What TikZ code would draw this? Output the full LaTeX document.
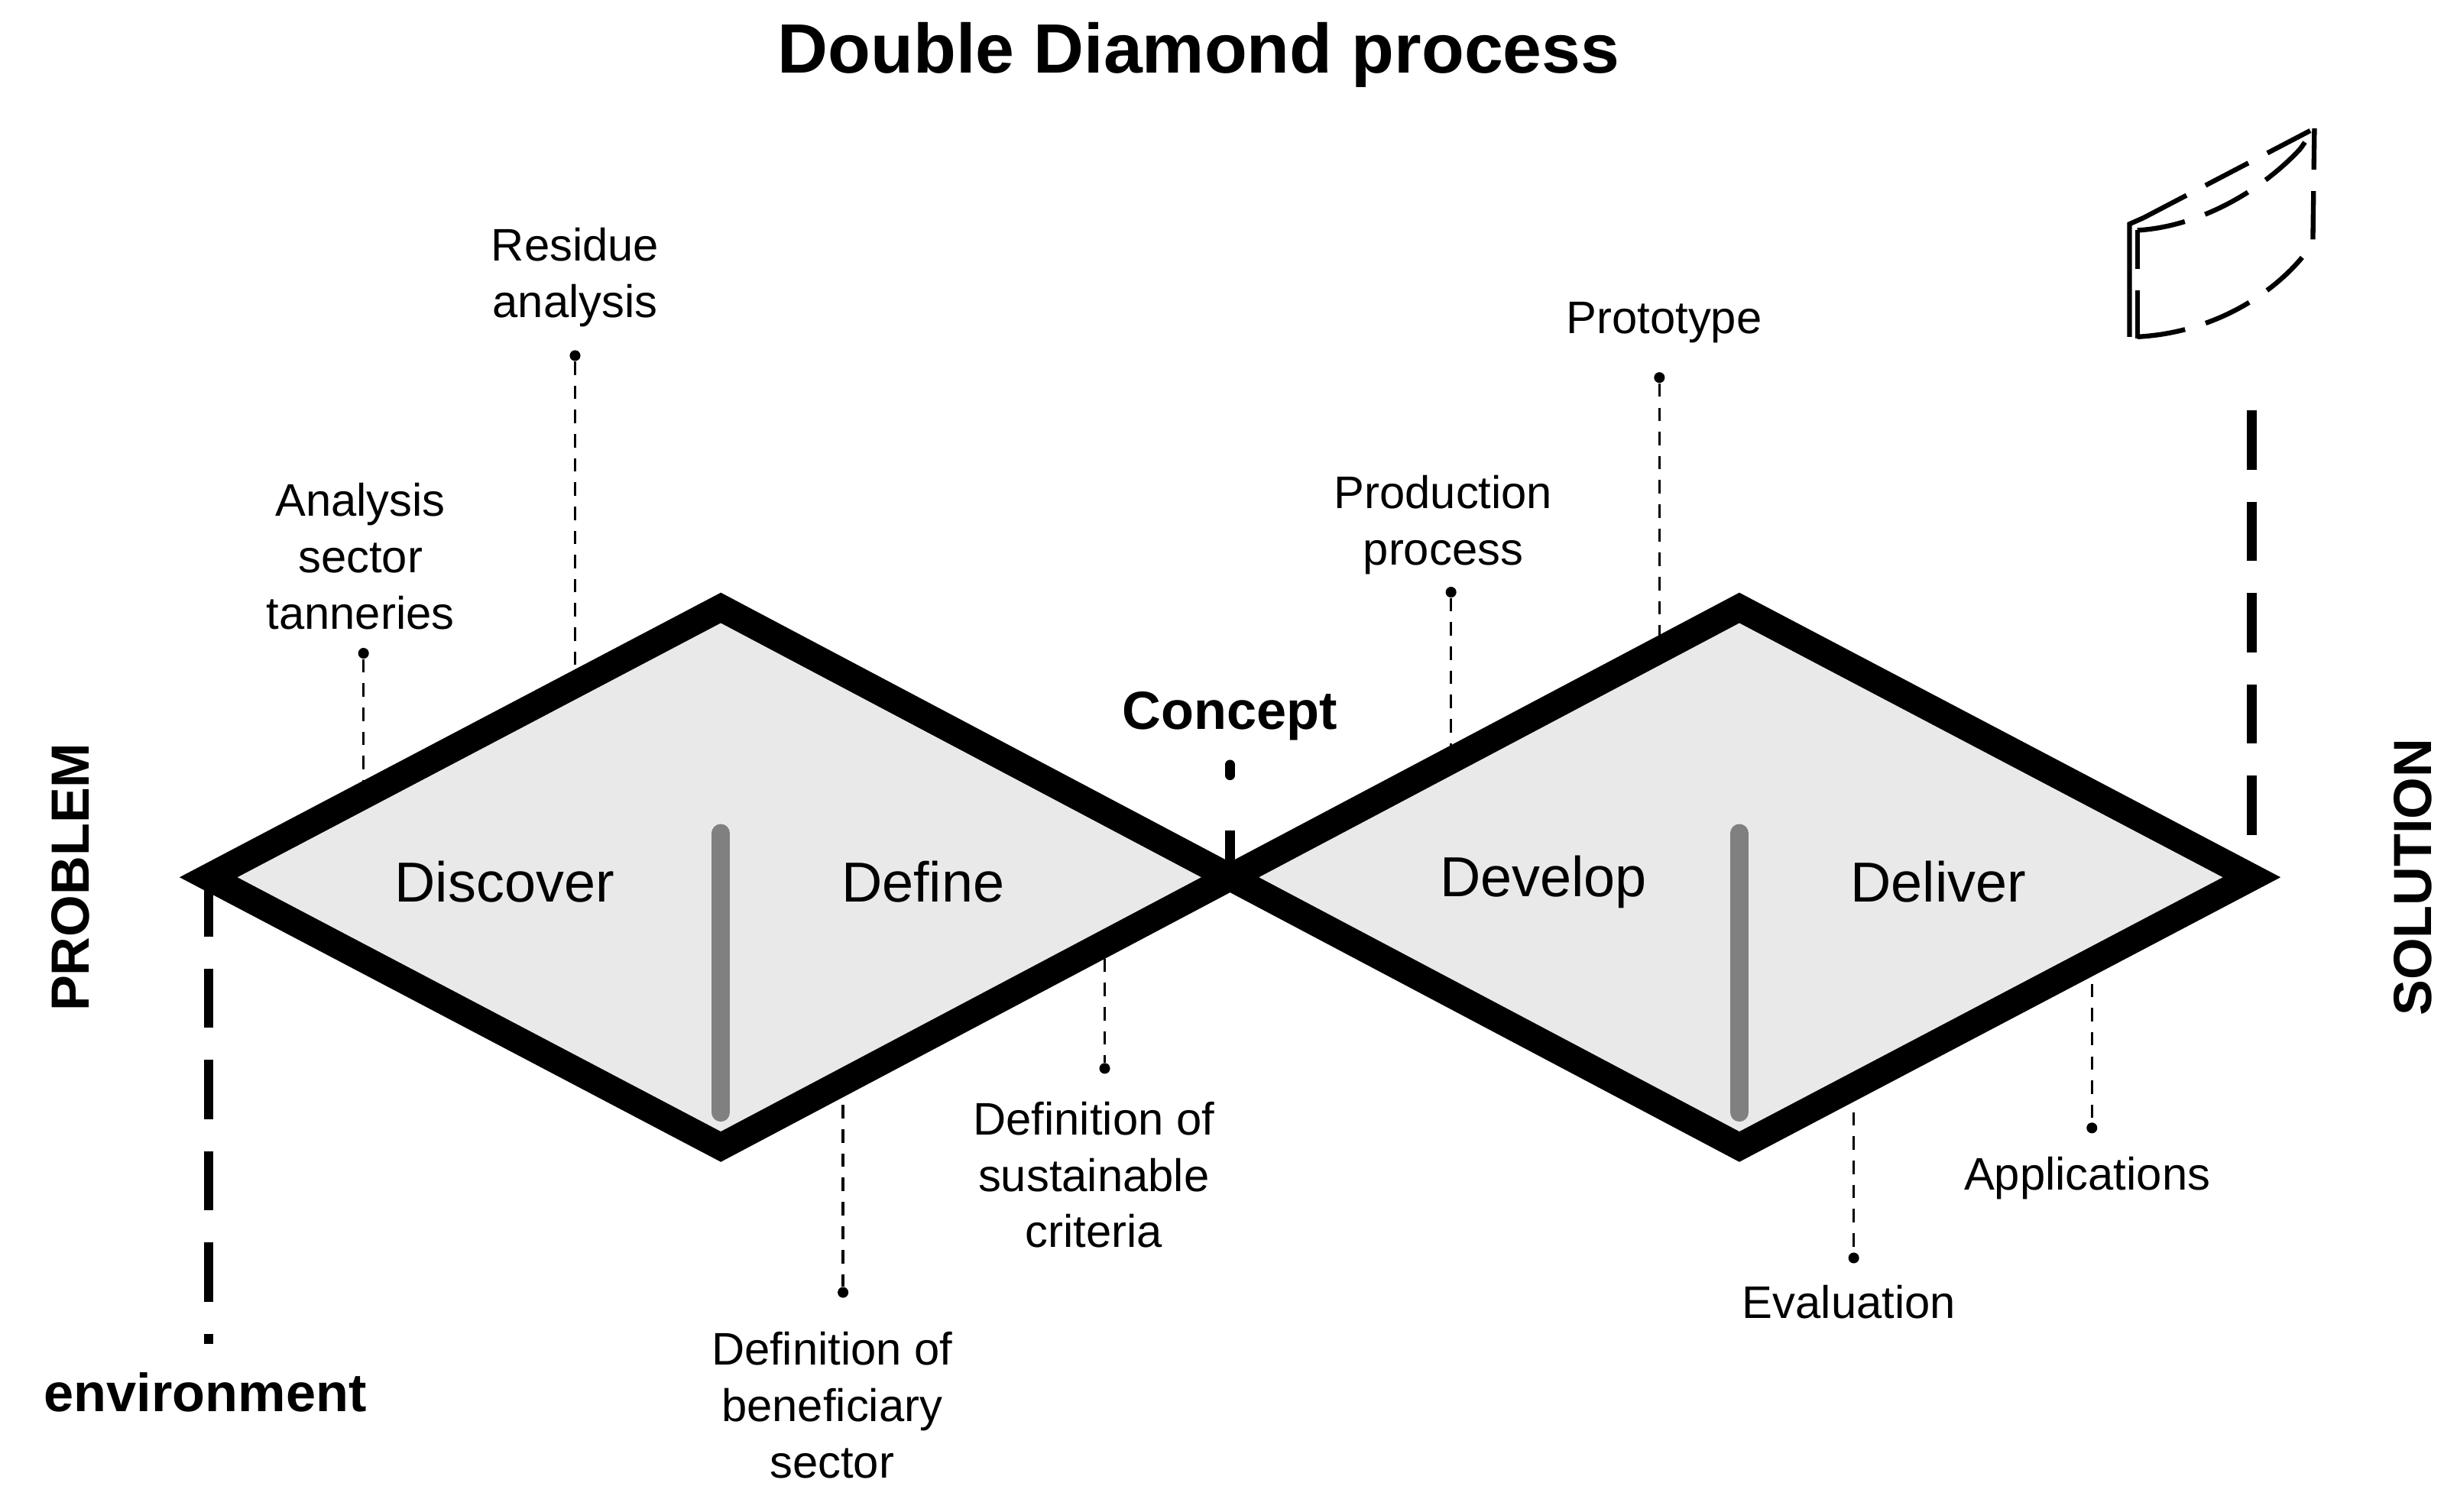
\documentclass[tikz,border=0pt]{standalone}
\usepackage{fontspec}
\setmainfont{Liberation Sans}
\usetikzlibrary{positioning}
\tikzset{
  phase/.style={draw=black, line width=10pt, fill=gray!17, line join=miter},
  split/.style={draw=gray!110!black, draw=gray, line width=7pt, line cap=round},
  guide/.style={draw=black, line width=3.5pt, dash pattern=on 22pt off 12pt},
  leader/.style={draw=black, line width=1pt, dash pattern=on 5pt off 4pt},
  tip/.style={circle, fill=black, inner sep=0pt, minimum size=4pt},
  label/.style={align=center, font=\fontsize{17}{21}\selectfont, inner sep=1pt},
  stage/.style={font=\fontsize{21}{25}\selectfont},
  strong/.style={font=\fontsize{20}{24}\selectfont\bfseries}
}
\begin{document}
\begin{tikzpicture}[x=0.20504mm, y=-0.20504mm]
  \useasboundingbox (0,0) rectangle (1568,964.7);
  % diamonds
  \coordinate (pL) at (133,560);
  \coordinate (c1) at (460,388);
  \coordinate (mid) at (785,560);
  \coordinate (c2) at (460,732);
  \coordinate (c3) at (1110,388);
  \coordinate (sR) at (1437,560);
  \coordinate (c4) at (1110,732);
  \path [phase] (pL) -- (c1) -- (mid) -- (c2) -- cycle;
  \path [phase] (mid) -- (c3) -- (sR) -- (c4) -- cycle;
  \path [split] (460,532) -- (460,710);
  \path [split] (1110,532) -- (1110,710);
  \node [stage] (discover) at (322,563) {Discover};
  \node [stage] (define) at (589,563) {Define};
  \node [stage] (develop) at (985,563) {Develop};
  \node [stage] (deliver) at (1237,563) {Deliver};

  % titles and sides
  \node [font=\fontsize{26}{30}\selectfont\bfseries] (title) at (765,35) {Double Diamond process};
  \node [strong, rotate=90] (problem) at (45,560) {PROBLEM};
  \node [strong, rotate=90] (solution) at (1540,560) {SOLUTION};
  \node [strong] (environment) at (131,889) {environment};
  \node [strong] (concept) at (785,457) {Concept};
  \coordinate (envTop) at (133,858);
  \coordinate (solTop) at (1437,262);
  \path [guide] (pL) -- (envTop);
  \path [guide] (solTop) -- (sR);
  \draw [line width=3.5pt, line cap=round] (785,488) -- (785,495);
  \draw [line width=3.5pt] (785,530) -- (mid);

  % labels above
  \node [label] (analysis) at (230,355) {Analysis\\sector\\tanneries};
  \node [label] (residue) at (367,177) {Residue\\analysis};
  \node [label] (production) at (921,335) {Production\\process};
  \node [label] (prototype) at (1062,206) {Prototype};
  \node [tip] (tAnalysis) at (232,417) {};
  \node [tip] (tResidue) at (367,227) {};
  \node [tip] (tProduction) at (926,378) {};
  \node [tip] (tPrototype) at (1059,241) {};
  \path [leader] (tAnalysis) -- (232,510);
  \path [leader] (tResidue) -- (367,440);
  \path [leader] (tProduction) -- (926,485);
  \path [leader] (tPrototype) -- (1059,413);

  % labels below
  \node [label] (criteria) at (698,750) {Definition of\\sustainable\\criteria};
  \node [label] (beneficiary) at (531,897) {Definition of\\beneficiary\\sector};
  \node [label] (evaluation) at (1180,831) {Evaluation};
  \node [label] (applications) at (1332,752) {Applications};
  \node [tip] (tCriteria) at (705,682) {};
  \node [tip] (tBeneficiary) at (538,825) {};
  \node [tip] (tEvaluation) at (1183,803) {};
  \node [tip] (tApplications) at (1335,720) {};
  \path [leader] (705,612) -- (tCriteria);
  \path [leader] (538,690) -- (tBeneficiary);
  \path [leader] (1183,710) -- (tEvaluation);
  \path [leader] (1335,628) -- (tApplications);

  % product sketch
  \draw [line width=1.8pt] (1359,215) -- (1359,143) -- (1368,139);
  \draw [line width=1.8pt, dash pattern=on 18pt off 8pt] (1364,216) -- (1364,147);
  \draw [line width=1.8pt, dash pattern=on 18pt off 8pt] (1364,215) .. controls (1420,212) and (1460,180) .. (1476,155) -- (1477,82);
  \draw [line width=1.8pt, dash pattern=on 18pt off 8pt] (1368,139) -- (1477,82) -- (1468,95);
  \draw [line width=1.8pt, dash pattern=on 18pt off 8pt] (1364,147) .. controls (1400,145) and (1440,125) .. (1468,95);
\end{tikzpicture}
\end{document}
